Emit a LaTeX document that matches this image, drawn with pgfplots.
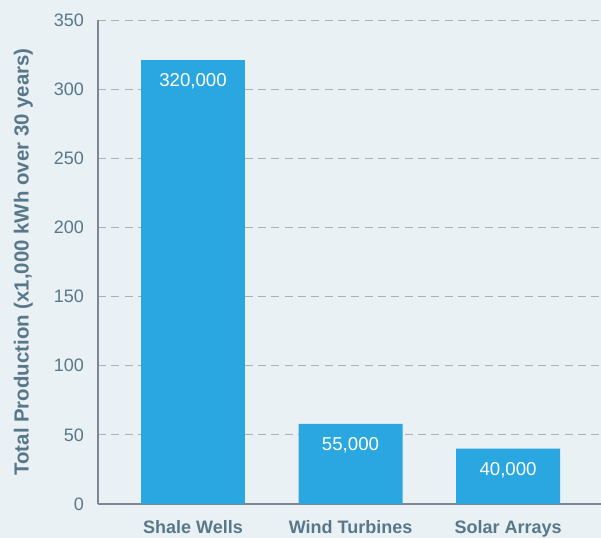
\documentclass[border=0pt]{standalone}
\usepackage{pgfplots}
\pgfplotsset{compat=1.18}
\usepackage{fontspec}
\setmainfont{Liberation Sans}
\definecolor{bg}{HTML}{E9F1F5}
\definecolor{barblue}{HTML}{2AA7E1}
\definecolor{txt}{HTML}{587789}
\definecolor{axisgray}{HTML}{7E8692}
\definecolor{gridgray}{HTML}{A9AFB5}
\begin{document}
\begin{tikzpicture}
\fill[bg] (0,0) rectangle (450.75pt,403.5pt);
\begin{axis}[
    at={(73.5pt,25.5pt)}, anchor=south west,
    scale only axis,
    width=377.25pt, height=363pt,
    ybar, bar width=0.66,
    xmin=-0.603, xmax=2.59,
    ymin=0, ymax=350,
    ytick={0,50,...,350},
    xtick=data,
    xticklabels={Shale Wells, Wind Turbines, Solar Arrays},
    axis x line=bottom, axis y line=left,
    axis line style={axisgray, line width=1.1pt, -},
    major tick length=0pt,
    ymajorgrids,
    grid style={gridgray, dashed, line width=0.7pt, dash pattern=on 6pt off 4pt},
    /pgf/number format/assume math mode=true,
    yticklabel style={font=\fontsize{13.5}{15}\selectfont, text=txt, xshift=-7pt},
    xticklabel style={font=\fontsize{13.5}{15}\selectfont\bfseries, text=txt, yshift=-8.5pt},
    ylabel={Total Production (x1,000 kWh over 30 years)},
    ylabel style={font=\fontsize{15.3}{17}\selectfont\bfseries, text=txt, yshift=9pt},
    point meta=explicit symbolic,
    nodes near coords,
    nodes near coords style={anchor=north, yshift=-6.5pt, text=white, font=\fontsize{14}{16}\selectfont},
]
\addplot[fill=barblue, draw=none] table[meta=lbl] {
x y lbl
0 321 320,000
1 58 55,000
2 40 40,000
};
\end{axis}
\pgfresetboundingbox
\path (0,0) rectangle (450.75pt,403.5pt);
\end{tikzpicture}
\end{document}
